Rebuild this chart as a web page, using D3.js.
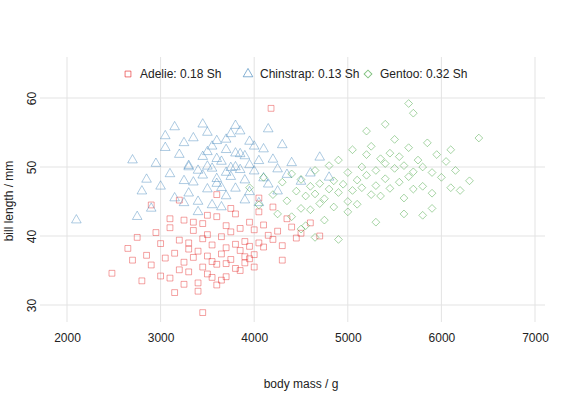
<!DOCTYPE html><html><head><meta charset="utf-8">
<script src="https://cdn.jsdelivr.net/npm/d3@7"></script>
<style>body{margin:0;background:#fff}text{font-family:"Liberation Sans",Arial,sans-serif}</style></head><body>
<svg id="c" width="576" height="407"></svg>
<script>
const xTicks=[2000,3000,4000,5000,6000,7000];
const yTicks=[30,40,50,60];
const legendLabels=["Adelie: 0.18 Sh","Chinstrap: 0.13 Sh","Gentoo: 0.32 Sh"];
const adelieMass=[2480,2650,2700,2750,2800,2850,2900,2950,3000,3000,3050,3100,3100,3150,3200,3200,3250,3250,3300,3300,3350,3350,3400,3400,3450,3450,3450,3500,3500,3500,3550,3550,3600,3600,3600,3650,3650,3700,3700,3700,3750,3750,3800,3800,3800,3850,3850,3900,3900,3950,3950,4000,4000,4050,4050,4100,4100,4150,4200,4200,4250,4300,4350,4400,4450,4500,4600,4700,3450,4180,3150,3250,3550,3650,3850,3950,4050,3350,3750,3600,3400,3300,3900,4000,3700,3500,2900,3100,3200,4300];
const adelieBill=[34.6,38.2,36.5,39.8,33.5,37.2,35.8,40.5,34.2,38.9,36.8,33.9,41.2,37.5,35.1,39.4,42.3,36.2,34.8,38.1,40.8,36.9,33.2,37.8,35.5,39.6,41.8,34.5,37.1,40.2,36.3,38.7,32.9,35.9,42.8,37.4,39.9,34.1,38.3,41.5,36.6,40.6,35.3,38.8,43.2,37.9,41.1,36.1,39.2,38.5,42.0,37.3,40.9,39.0,43.5,38.4,41.6,40.1,39.5,44.2,40.7,38.6,42.5,41.3,39.7,40.4,41.9,40.0,28.9,58.5,31.8,33.0,34.0,33.6,35.0,36.7,45.5,42.0,44.0,46.0,32.0,39.0,37.0,35.5,36.0,43.0,44.5,42.5,45.2,36.5];
const chinstrapMass=[2100,2700,2800,2850,2900,2950,3000,3050,3100,3150,3200,3250,3250,3300,3300,3350,3350,3400,3400,3450,3450,3500,3500,3500,3550,3550,3600,3600,3600,3650,3650,3700,3700,3700,3750,3750,3800,3800,3800,3850,3850,3900,3900,3950,3950,4000,4000,4050,4100,4100,4150,4200,4250,4300,4350,4400,4500,4600,4700,4800,3150,3400,3650,3900,4150,3300,3550,3800,4050,2750,3050,3250,3450,3700,3950,4250,3600,3850,3500,3750];
const chinstrapBill=[42.3,51.0,46.5,48.2,44.0,50.5,47.2,52.8,49.0,45.5,51.8,48.0,53.5,46.2,50.2,47.8,54.2,49.5,45.0,51.5,48.8,52.2,46.8,55.0,49.8,44.5,51.2,48.3,53.8,47.0,50.8,49.2,45.8,52.5,48.6,54.8,50.0,46.9,52.0,49.6,55.2,48.1,51.6,50.3,46.4,49.4,53.0,50.9,48.4,52.6,47.5,51.1,49.7,53.2,48.9,50.6,47.9,49.1,51.4,48.5,55.8,43.5,44.2,45.2,55.5,50.0,53.0,56.0,44.8,42.8,54.5,44.8,56.2,54.0,53.7,46.5,47.6,51.9,50.1,49.9];
const gentooMass=[3950,4050,4100,4200,4250,4300,4350,4400,4400,4450,4500,4500,4550,4550,4600,4600,4650,4650,4700,4700,4750,4750,4800,4800,4850,4850,4900,4900,4950,5000,5000,5050,5050,5100,5100,5150,5150,5200,5200,5250,5250,5300,5300,5350,5350,5400,5400,5450,5450,5500,5500,5550,5550,5600,5600,5650,5650,5700,5700,5750,5800,5800,5850,5900,5900,5950,6000,6050,6100,6150,6200,6300,6400,5650,5400,5700,4650,4500,5200,5900,6100,4900,5600,5800,5000,5300];
const gentooBill=[47.0,44.5,48.5,46.0,43.2,47.8,45.1,49.0,42.8,46.5,44.0,48.2,45.8,41.5,47.2,43.8,46.1,49.5,44.7,47.6,45.4,42.3,46.8,50.2,44.2,48.0,46.3,51.0,47.5,45.0,49.2,46.6,52.5,48.1,44.6,50.0,47.0,51.8,48.8,46.0,53.0,49.5,47.3,51.2,45.8,50.5,48.3,52.0,46.9,49.8,54.0,47.8,51.5,50.2,45.5,48.6,52.8,49.3,46.8,51.0,50.0,47.2,53.5,49.2,46.2,51.8,48.5,50.8,47.0,49.5,46.6,48.0,54.2,59.2,56.2,57.8,39.8,41.0,55.2,44.0,52.5,39.5,43.2,43.0,43.5,42.0];
const series=[
 {name:"Adelie",mass:adelieMass,bill:adelieBill,color:"#e41a1c",sym:d3.symbolSquare,size:34,rot:0},
 {name:"Chinstrap",mass:chinstrapMass,bill:chinstrapBill,color:"#377eb8",sym:d3.symbolTriangle,size:40,rot:0},
 {name:"Gentoo",mass:gentooMass,bill:gentooBill,color:"#2e9a2b",sym:d3.symbolSquare,size:30,rot:45}];
const svg=d3.select("#c");
const x=d3.scaleLinear().domain([2000,7000]).range([67,535]);
const y=d3.scaleLinear().domain([30,60]).range([305,98]);
const g=svg.append("g");
xTicks.forEach(t=>g.append("line").attr("x1",x(t)).attr("x2",x(t)).attr("y1",57).attr("y2",322).attr("stroke","#e3e3e3"));
yTicks.forEach(t=>g.append("line").attr("x1",40).attr("x2",545).attr("y1",y(t)).attr("y2",y(t)).attr("stroke","#e3e3e3"));
const xa=svg.append("g").attr("transform","translate(0,330)").call(d3.axisBottom(x).tickValues(xTicks).tickSize(0).tickFormat(d3.format("d")));
xa.select(".domain").remove();xa.selectAll("text").attr("font-size",12).attr("fill","#222");
const ya=svg.append("g").attr("transform","translate(36,0)").call(d3.axisLeft(y).tickValues(yTicks).tickSize(0));
ya.select(".domain").remove();
ya.selectAll(".tick text").attr("font-size",12).attr("fill","#222").attr("text-anchor","middle").attr("x",0).attr("y",0).attr("dy",0).attr("transform","rotate(-90)");
series.forEach(s=>{
 const sym=d3.symbol().type(s.sym).size(s.size);
 svg.append("g").selectAll("path").data(s.mass.map((m,i)=>[m,s.bill[i]])).join("path")
  .attr("d",sym).attr("transform",d=>`translate(${x(d[0])},${y(d[1])}) rotate(${s.rot})`)
  .attr("fill","none").attr("stroke",s.color).attr("stroke-opacity",0.45).attr("stroke-width",0.9);
});
const lx=[128,248,368];
series.forEach((s,i)=>{
 svg.append("path").attr("d",d3.symbol().type(s.sym).size(s.size)()).attr("transform",`translate(${lx[i]},74) rotate(${s.rot})`).attr("fill","none").attr("stroke",s.color).attr("stroke-opacity",0.6);
 svg.append("text").attr("x",lx[i]+12).attr("y",78).attr("font-size",12).attr("fill","#222").text(legendLabels[i]);
});
svg.append("text").attr("x",301).attr("y",388).attr("text-anchor","middle").attr("font-size",12).attr("fill","#222").text("body mass / g");
svg.append("text").attr("transform","translate(13,201) rotate(-90)").attr("text-anchor","middle").attr("font-size",12).attr("fill","#222").text("bill length / mm");
</script></body></html>
